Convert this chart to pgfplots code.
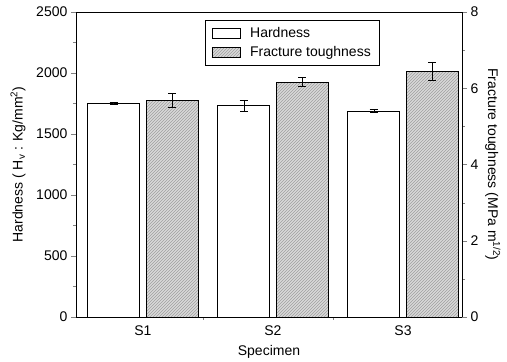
\documentclass[border=0pt]{standalone}
\usepackage{pgfplots}
\pgfplotsset{compat=1.18}
\usepackage{fontspec}
\setmainfont{Liberation Sans}
\usetikzlibrary{patterns}
\begin{document}
\begin{tikzpicture}[font=\fontsize{14}{16}\selectfont]
\pgfplotsset{
  common/.style={
    scale only axis, width=386pt, height=305pt,
    xmin=-0.515, xmax=2.454,
    tick align=outside,
    major tick length=5pt, minor tick length=3pt,
    /pgf/number format/assume math mode=true,
    /pgf/number format/1000 sep={},
    tick label style={font=\fontsize{14}{16}\selectfont},
    label style={font=\fontsize{14}{16}\selectfont},
    every axis/.append style={line width=0.6pt},
  },
  barleg/.style={legend image code/.code={\draw[##1] (0pt,-5pt) rectangle (28pt,5pt);}},
}
\begin{axis}[common, name=main,
  ymin=0, ymax=2500,
  ytick={0,500,1000,1500,2000,2500},
  minor y tick num=1,
  ytick pos=left,
  xtick={0,1,2}, xticklabels={S1,S2,S3},
  xtick pos=bottom,
  major x tick style={draw=none},
  minor xtick={0.46,1.46},
  xlabel={Specimen},
  ylabel={Hardness ( H\textsubscript{v} : Kg/mm\textsuperscript{2})},
  ylabel style={at={(axis description cs:-0.150,0.5)}, anchor=center},
  xlabel style={at={(axis description cs:0.5,-0.115)}, anchor=center},
]
\addplot[ybar, bar width=0.4, bar shift=0, fill=white, draw=black, line width=0.6pt,
  error bars/.cd, y dir=both, y explicit,
  error mark options={rotate=90, mark size=4pt, line width=0.6pt}]
  coordinates {(-0.225,1752) +- (0,6) (0.775,1735) +- (0,45) (1.775,1690) +- (0,10)};
\end{axis}
\begin{axis}[common,
  ymin=0, ymax=8,
  ytick={0,2,4,6,8},
  minor y tick num=1,
  axis x line=none,
  axis y line*=right,
  y axis line style={-},
  ylabel={Fracture toughness (MPa m\textsuperscript{1/2})},
  ylabel style={at={(axis description cs:1.080,0.5)}, anchor=center, rotate=180},
  legend style={at={(0.335,0.974)}, anchor=north west, draw=black, line width=0.5pt,
    font=\fontsize{14}{16}\selectfont, row sep=4pt, column sep=8pt,
    inner xsep=6pt, inner ysep=5pt},
  legend cell align=left,
]
\addlegendimage{barleg, fill=white, draw=black}
\addlegendentry{Hardness}
\addplot[ybar, bar width=0.4, bar shift=0, fill=gray!30, draw=black, line width=0.6pt,
  postaction={pattern=north east lines, pattern color=gray!75}, barleg,
  error bars/.cd, y dir=both, y explicit,
  error mark options={rotate=90, mark size=4pt, line width=0.6pt}]
  coordinates {(0.225,5.69) +- (0,0.18) (1.225,6.16) +- (0,0.12) (2.225,6.45) +- (0,0.24)};
\addlegendentry{Fracture toughness}
\end{axis}
\pgfresetboundingbox
\path ([shift={(-76pt,-45pt)}]main.south west) rectangle ([shift={(45pt,12pt)}]main.north east);
\end{tikzpicture}
\end{document}
